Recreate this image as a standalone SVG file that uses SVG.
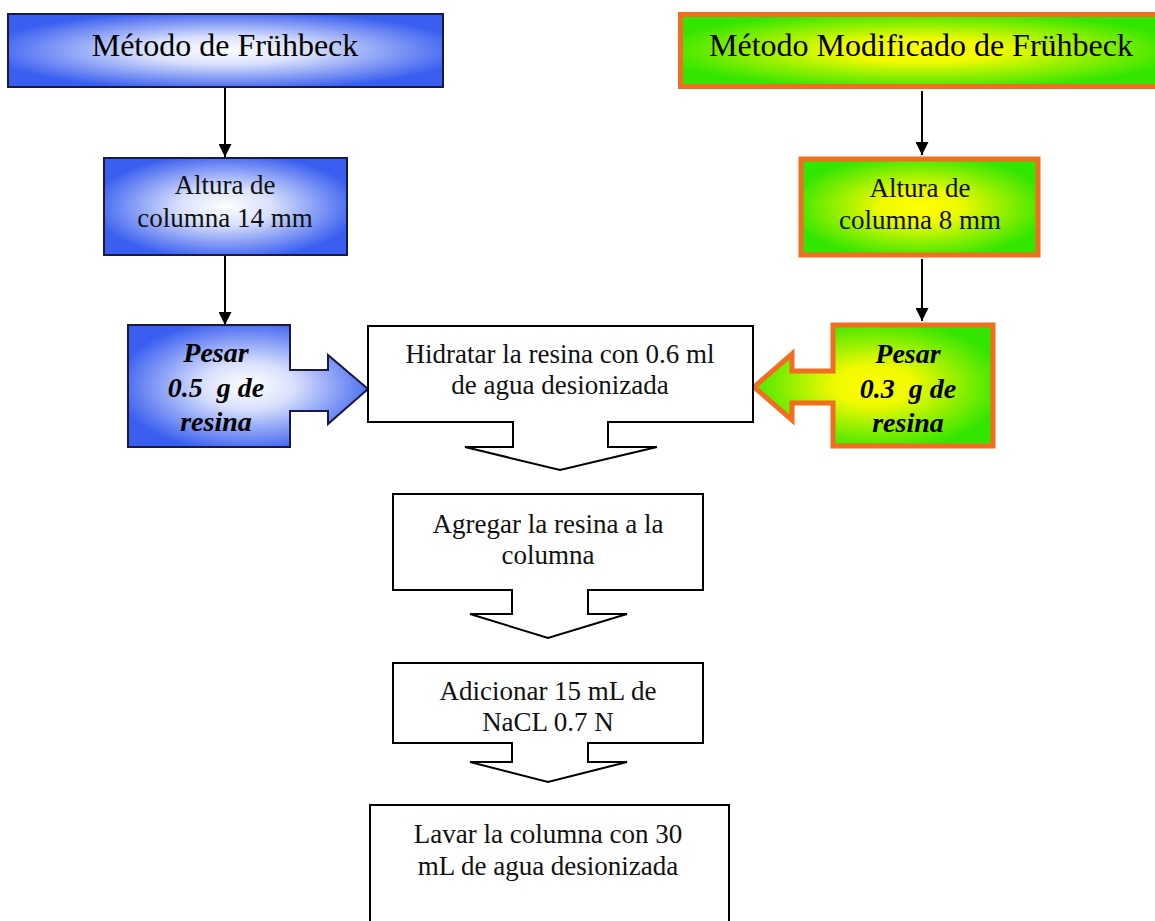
<svg xmlns="http://www.w3.org/2000/svg" width="1155" height="921" viewBox="0 0 1155 921">
<style>
.hdr{font-family:"Liberation Serif","Times New Roman",serif;font-size:32px;fill:#000;text-anchor:middle}
.t{font-family:"Liberation Serif","Times New Roman",serif;font-size:27px;fill:#111;text-anchor:middle}
.bi{font-family:"Liberation Serif","Times New Roman",serif;font-size:28px;font-weight:bold;font-style:italic;fill:#000;text-anchor:middle}
.blue{fill:url(#gBlue);stroke:#1a1a40;stroke-width:2}
.green{fill:url(#gGreen);stroke:#f26d1f;stroke-width:5}
.white{fill:#fff;stroke:#000;stroke-width:2}
.conn{stroke:#000;stroke-width:2;fill:none;marker-end:url(#ah)}
</style>
<defs>
<radialGradient id="gBlue" cx="50%" cy="50%" r="55%">
<stop offset="0" stop-color="#ffffff"/>
<stop offset="0.35" stop-color="#d8e0fc"/>
<stop offset="1" stop-color="#3a5ff0"/>
</radialGradient>
<radialGradient id="gGreen" cx="50%" cy="50%" r="55%">
<stop offset="0" stop-color="#ffff00"/>
<stop offset="0.3" stop-color="#f0fa00"/>
<stop offset="1" stop-color="#33e600"/>
</radialGradient>
<marker id="ah" viewBox="0 0 10 10" refX="10" refY="5" markerWidth="14" markerHeight="13" orient="auto" markerUnits="userSpaceOnUse">
<path d="M0,0 L10,5 L0,10 Z" fill="#000"/>
</marker>
</defs>
<rect width="1155" height="921" fill="#fff"/>

<g id="connectors">
<line class="conn" x1="225" y1="88" x2="225" y2="157"/>
<line class="conn" x1="225" y1="256" x2="225" y2="325"/>
<line class="conn" x1="922" y1="91" x2="922" y2="155"/>
<line class="conn" x1="922" y1="259" x2="922" y2="321"/>
</g>

<g id="n-frubeck">
<rect class="blue" x="8" y="14" width="435" height="73"/>
<text class="hdr" x="225" y="56">Método de Frühbeck</text>
</g>

<g id="n-modificado">
<rect class="green" x="680.5" y="14.5" width="480" height="72"/>
<text class="hdr" x="921" y="56">Método Modificado de Frühbeck</text>
</g>

<g id="n-altura14">
<rect class="blue" x="104" y="158" width="243" height="97"/>
<text class="t" x="225" y="194">Altura de</text>
<text class="t" x="225" y="227">columna 14 mm</text>
</g>

<g id="n-altura8">
<rect class="green" x="801" y="159" width="237" height="96"/>
<text class="t" x="920" y="197">Altura de</text>
<text class="t" x="920" y="229">columna 8 mm</text>
</g>

<g id="n-pesar05">
<path class="blue" d="M128,325 H290 V370 H328 V355 L368,389 L328,424 V411 H290 V447 H128 Z"/>
<text class="bi" x="216" y="362">Pesar</text>
<text class="bi" x="216" y="397" xml:space="preserve">0.5  g de</text>
<text class="bi" x="216" y="431">resina</text>
</g>

<g id="n-pesar03">
<path class="green" d="M993,325 V446 H833 V403 H792 V420 L754,387 L792,354 V371 H833 V325 Z"/>
<text class="bi" x="908" y="363">Pesar</text>
<text class="bi" x="908" y="398" xml:space="preserve">0.3  g de</text>
<text class="bi" x="908" y="432">resina</text>
</g>

<g id="n-hidratar">
<path class="white" d="M368,326 H753 V422 H608 V447 H657 L560,470 L465,447 H513 V422 H368 Z"/>
<text class="t" x="560" y="363">Hidratar la resina con 0.6 ml</text>
<text class="t" x="560" y="394">de agua desionizada</text>
</g>

<g id="n-agregar">
<path class="white" d="M393,494 H703 V590 H588 V614 H627 L548,638 L470,614 H512 V590 H393 Z"/>
<text class="t" x="548" y="533">Agregar la resina a la</text>
<text class="t" x="548" y="564">columna</text>
</g>

<g id="n-adicionar">
<path class="white" d="M393,663 H703 V743 H588 V762 H627 L548,782 L470,762 H512 V743 H393 Z"/>
<text class="t" x="548" y="700">Adicionar 15 mL de</text>
<text class="t" x="548" y="731">NaCL 0.7 N</text>
</g>

<g id="n-lavar">
<path class="white" d="M370,930 V805 H729 V930"/>
<text class="t" x="548" y="843">Lavar la columna con 30</text>
<text class="t" x="548" y="875">mL de agua desionizada</text>
</g>
</svg>
